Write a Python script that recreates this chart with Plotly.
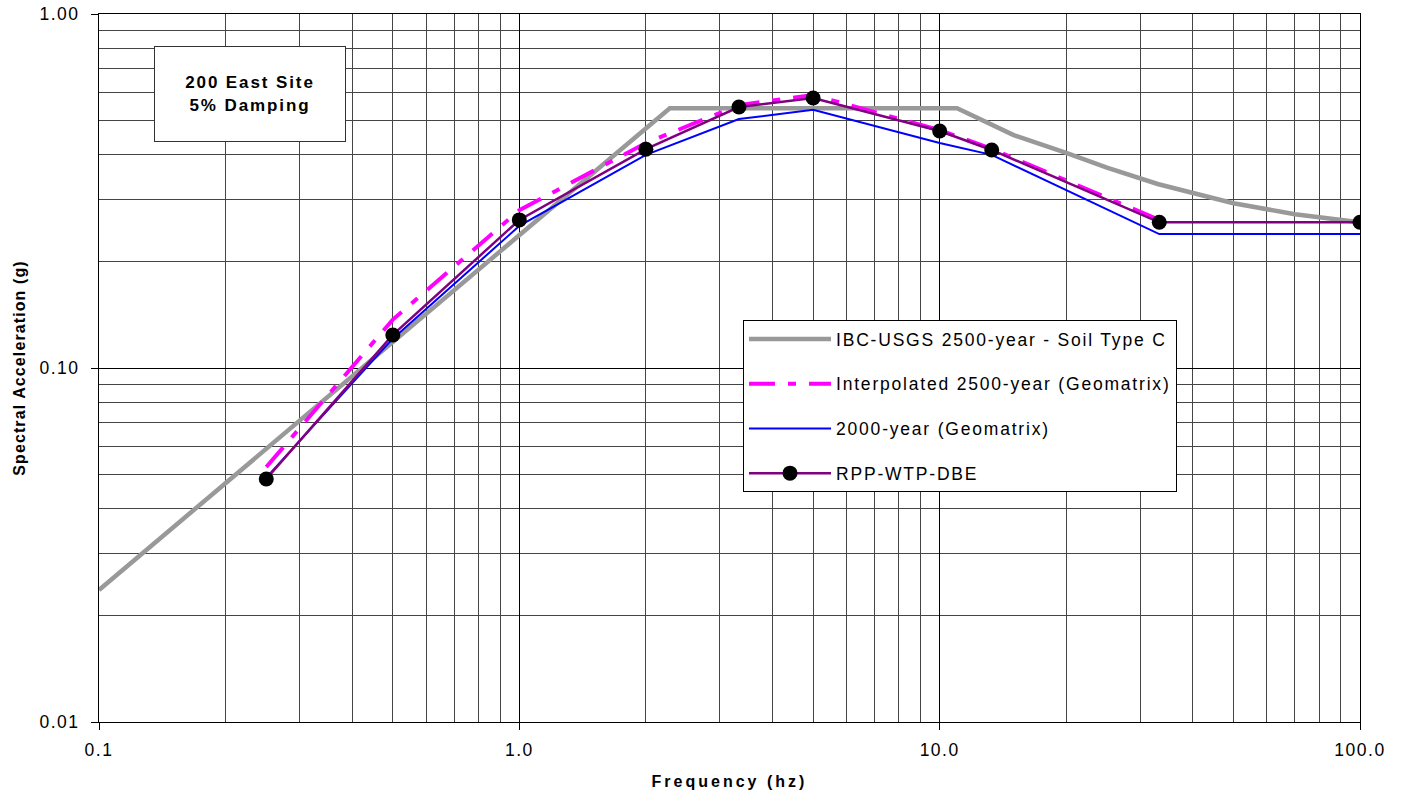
import plotly.graph_objects as go

# IBC-USGS 2500-year - Soil Type C
ibc_f = [0.1, 2.28, 11.0, 12.7, 15.0, 20.0, 25.0, 33.0, 50.0, 70.0, 100.0]
ibc_sa = [0.0236, 0.542, 0.542, 0.50, 0.455, 0.405, 0.368, 0.331, 0.292, 0.272, 0.258]

# Interpolated 2500-year (Geomatrix)
int_f = [0.25, 0.5, 1.0, 2.0, 3.33, 5.0, 10.0, 13.3, 33.3]
int_sa = [0.0525, 0.137, 0.279, 0.432, 0.553, 0.590, 0.470, 0.416, 0.262]

# 2000-year (Geomatrix)
y2000_f = [0.25, 0.5, 1.0, 2.0, 3.33, 5.0, 10.0, 13.3, 33.3, 100.0]
y2000_sa = [0.0490, 0.121, 0.252, 0.400, 0.505, 0.536, 0.432, 0.400, 0.239, 0.239]

# RPP-WTP-DBE
rpp_f = [0.25, 0.5, 1.0, 2.0, 3.33, 5.0, 10.0, 13.3, 33.3, 100.0]
rpp_sa = [0.0486, 0.124, 0.262, 0.415, 0.546, 0.579, 0.467, 0.413, 0.258, 0.258]

x_ticks = [0.1, 1, 10, 100]
x_ticktext = ["0.1", "1.0", "10.0", "100.0"]
y_ticks = [0.01, 0.1, 1]
y_ticktext = ["0.01", "0.10", "1.00"]

x_minor = [m * d for d in [0.1, 1, 10] for m in range(2, 10)]
y_minor = [m * d for d in [0.01, 0.1] for m in range(2, 10)]

FONT = "Liberation Sans, Arial, sans-serif"

fig = go.Figure()
fig.add_trace(go.Scatter(x=ibc_f, y=ibc_sa, mode="lines", name="IBC-USGS 2500-year - Soil Type C",
                         line=dict(color="#999999", width=4.5), legendgroup="a"))
fig.add_trace(go.Scatter(x=int_f, y=int_sa, mode="lines", name="Interpolated 2500-year (Geomatrix)",
                         line=dict(color="#FF00FF", width=4, dash="26px,13px,8px,13px"), legendgroup="b"))
fig.add_trace(go.Scatter(x=y2000_f, y=y2000_sa, mode="lines", name="2000-year (Geomatrix)",
                         line=dict(color="#0000FF", width=2), legendgroup="c"))
fig.add_trace(go.Scatter(x=rpp_f, y=rpp_sa, mode="lines+markers", name="RPP-WTP-DBE",
                         line=dict(color="#800080", width=2.5),
                         marker=dict(color="black", size=15, line=dict(width=0)), legendgroup="d"))

fig.add_annotation(x=(249.5 - 99) / 1261, y=(722 - 93.5) / 708, xref="paper", yref="paper",
                   xanchor="center", yanchor="middle",
                   text="<b>200 East Site<br>5% Damping</b>", showarrow=False,
                   font=dict(family=FONT, size=17, color="black"),
                   bgcolor="white", bordercolor="#333333", borderwidth=1,
                   width=188, height=92, align="center", valign="middle")

axis_common = dict(type="log", showline=True, mirror=True, linecolor="black", linewidth=1,
                   gridcolor="#000000", gridwidth=1, zeroline=False, automargin=False,
                   ticks="outside", ticklen=7, tickcolor="black",
                   tickfont=dict(family=FONT, size=17.5, color="black"))

fig.update_layout(
    width=1403, height=793,
    paper_bgcolor="white", plot_bgcolor="white",
    margin=dict(l=99, r=43, t=14, b=71),
    font=dict(family=FONT, color="black"),
    xaxis=dict(range=[-1, 2], tickvals=x_ticks, ticktext=x_ticktext, ticklabelstandoff=5,
               minor=dict(tickvals=x_minor, showgrid=True, gridcolor="#444444", gridwidth=1, ticks=""),
               title=dict(text="<b>Frequency (hz)</b>", font=dict(family=FONT, size=16), standoff=16),
               **axis_common),
    yaxis=dict(range=[-2, 0], tickvals=y_ticks, ticktext=y_ticktext, ticklabelstandoff=8,
               minor=dict(tickvals=y_minor, showgrid=True, gridcolor="#444444", gridwidth=1, ticks=""),
               title=dict(text="<b>Spectral Acceleration (g)</b>", font=dict(family=FONT, size=16), standoff=15),
               **axis_common),
    legend=dict(x=(743 - 99) / 1261, y=(722 - 320) / 708, xanchor="left", yanchor="top",
                bgcolor="white", bordercolor="black", borderwidth=1,
                font=dict(family=FONT, size=17.5, color="black"),
                itemwidth=82, tracegroupgap=19),
    showlegend=True,
)

post = """
var gd = document.getElementById('{plot_id}');
document.body.style.margin = '0';
var st = document.createElement('style');
st.textContent = '.legendtext{letter-spacing:1.8px;} .xtick text,.ytick text{letter-spacing:1.5px;} ' +
  '.xtitle{letter-spacing:3px;} .ytitle{letter-spacing:1.1px;} .annotation-text{letter-spacing:1.9px;}';
document.head.appendChild(st);
return Plotly.relayout(gd, {'legend.font.family': 'Liberation Sans, Arial, Helvetica, sans-serif'});
"""

fig.write_html("out.html", post_script=post, config={"displayModeBar": False})
